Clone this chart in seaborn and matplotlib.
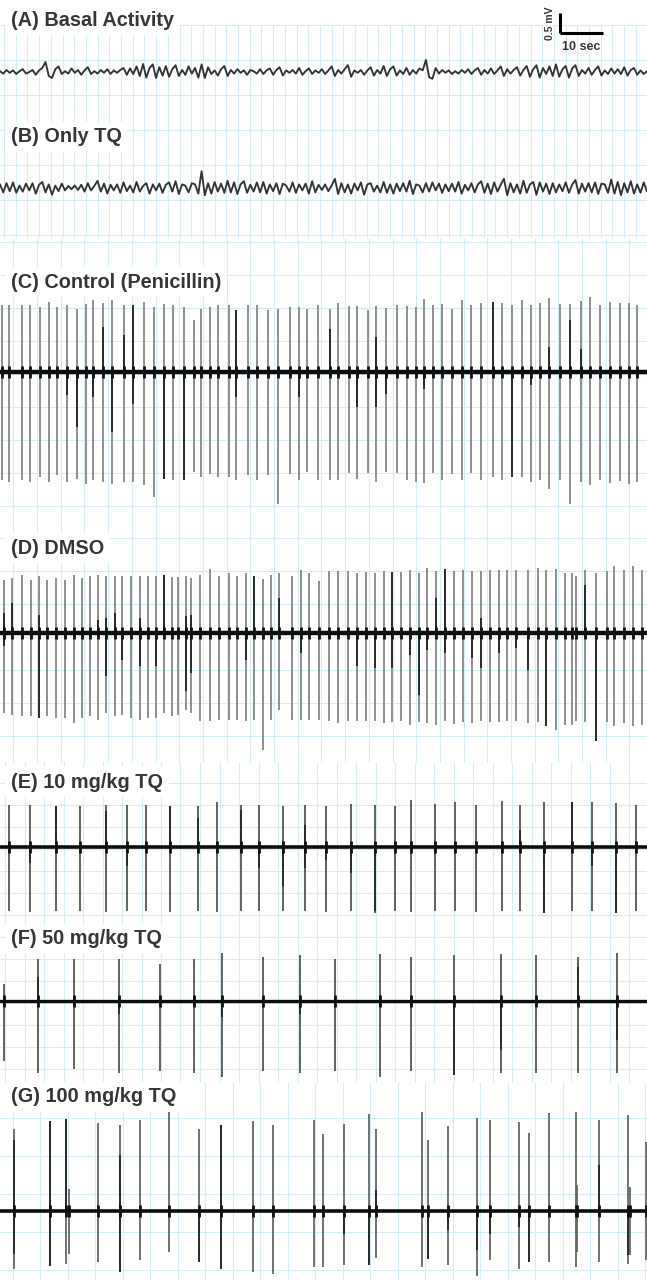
import numpy as np
import matplotlib
matplotlib.use('Agg')
import matplotlib.pyplot as plt
from matplotlib import font_manager
import seaborn as sns

# ---------------------------------------------------------------------------
# data
# ---------------------------------------------------------------------------

panel_labels = ['(A) Basal Activity', '(B) Only TQ', '(C) Control (Penicillin)', '(D) DMSO',
                '(E) 10 mg/kg TQ', '(F) 50 mg/kg TQ', '(G) 100 mg/kg TQ']

# (A) and (B): raw trace in microvolts, samples spread evenly over the 150 s window
basal_uv = [20, -40, 50, -20, 40, -50, 20, 70, -40, 0,
            50, -70, 40, 100, 250, -100, -150, 70, 140, -50,
            20, -40, 90, -20, 50, -70, 40, 120, -50, 20,
            -40, 50, -20, 70, -50, 40, -20, 50, 100, -70,
            90, -50, 140, -100, 200, -140, 100, 190, -150, 120,
            -90, 150, -120, 70, 170, -100, 50, -70, 140, -40,
            100, -140, 190, -150, 120, -50, 40, -90, 70, 150,
            -100, 50, -40, 70, -20, 40, -70, 50, 20, -40,
            70, -50, 40, 90, -70, 50, 120, -90, 40, -20,
            50, -40, 100, -70, 20, 90, -50, 40, -20, 70,
            -50, 40, 140, -100, 50, -40, 70, 170, -120, 40,
            -20, 50, -70, 40, 120, -90, 50, -40, 150, -100,
            70, 140, -90, 40, -50, 100, -70, 50, -40, 90,
            40, 300, -130, -170, 100, -40, 50, -20, 40, -50,
            20, -40, 50, -20, 70, -50, 40, 100, -70, 50,
            -40, 90, -50, 40, 140, -100, 70, -40, 50, 120,
            -90, 50, 150, -120, 70, 170, -140, 100, -50, 140,
            -100, 190, -120, 70, 150, -140, 90, 170, -100, 50,
            -40, 100, -70, 50, 140, -90, 40, -50, 90, -40,
            70, -50, 120, -90, 50, 100, -70, 40, -50, 20]

only_tq_uv = [90, -110, 120, -80, 140, -120, 60, -90, 110, -60,
              120, -140, 80, 150, -110, 90, -170, 60, -80, 110,
              -60, 50, -30, 60, -50, 80, -90, 120, -60, 50,
              180, -90, 110, -140, 80, -60, 90, -120, 140, -80,
              60, -110, 150, -90, 50, 120, -140, 90, -60, 110,
              -120, 80, 140, -90, 170, -150, 90, 60, -110, 120,
              90, -140, 420, -180, 120, -140, 150, -90, 110, -120,
              180, -110, 140, -150, 90, 170, -120, 80, -90, 140,
              -110, 150, -140, 90, -80, 120, -150, 110, 60, -90,
              140, -120, 90, -60, 110, -140, 170, -110, 80, -50,
              90, -80, 60, 230, -150, 120, -110, 90, -140, 110,
              -60, 140, -170, 90, 120, -90, 60, -110, 150, -120,
              90, -140, 110, -80, 120, -90, 180, -150, 90, 60,
              -110, 120, -90, 140, -60, 110, -120, 90, -80, 110,
              -90, 150, -140, 80, -60, 120, -110, 90, 170, -120,
              110, -150, 140, -90, 80, 230, -180, 120, -110, 90,
              -140, 180, -120, 90, 150, -170, 140, -90, 110, -150,
              120, -110, 90, -80, 140, -120, 90, 200, -140, 110,
              -90, 120, -110, 140, -150, 110, 90, -120, 210, -140,
              150, -180, 120, -110, 170, -140, 90, -120, 140, -90]

# spiking traces: spike time (s), positive peak (mV), negative peak (mV)
control_t = [0.4, 2.1, 5.0, 7.0, 9.3, 11.4, 13.3, 15.5, 18.0, 20.0, 21.6, 24.0, 26.1, 28.8, 30.9,
             33.6, 35.7, 38.2, 40.2, 42.9, 45.0, 46.7, 48.8, 50.8, 53.2, 54.9, 57.7, 59.7, 62.4,
             64.7, 67.4, 69.6, 71.3, 74.0,
             76.7, 78.6, 81.1, 83.1, 85.6, 87.5, 89.7, 92.3, 94.7, 96.7, 98.5, 100.7, 102.9, 105.0,
             107.5, 109.5, 111.9, 114.7, 116.7, 119.1, 121.4, 123.4, 125.5, 127.7, 130.3, 132.5,
             135.0, 137.1, 139.5, 141.9, 144.1, 146.3, 148.2]
control_up = [1.67, 1.67, 1.67, 1.67, 1.62, 1.75, 1.62, 1.67, 1.58, 1.71, 1.81, 1.72, 1.81, 1.67, 1.67,
              1.75, 1.62, 1.71, 1.67, 1.62, 1.29, 1.58, 1.62, 1.67, 1.67, 1.54, 1.67, 1.67, 1.54,
              1.58, 1.62, 1.62, 1.58, 1.67,
              1.58, 1.72, 1.64, 1.64, 1.56, 1.64, 1.61, 1.67, 1.64, 1.62, 1.83, 1.67, 1.69, 1.58,
              1.81, 1.67, 1.72, 1.75, 1.72, 1.67, 1.81, 1.67, 1.72, 1.86, 1.71, 1.69, 1.77, 1.88,
              1.67, 1.75, 1.72, 1.72, 1.67]
control_down = [2.71, 2.75, 2.71, 2.75, 2.62, 2.75, 2.58, 2.75, 2.67, 2.79, 2.71, 2.75, 2.79, 2.75, 2.75,
                2.83, 3.12, 2.67, 2.71, 2.71, 2.5, 2.62, 2.54, 2.62, 2.62, 2.71, 2.58, 2.71, 2.58,
                3.29, 2.54, 2.71, 2.5, 2.71,
                2.71, 2.71, 2.52, 2.67, 2.52, 2.75, 2.5, 2.52, 2.71, 2.75, 2.77, 2.52, 2.71, 2.56,
                2.71, 2.52, 2.69, 2.62, 2.71, 2.62, 2.62, 2.75, 2.69, 2.92, 2.71, 3.29, 2.75, 2.83,
                2.71, 2.77, 2.73, 2.79, 2.75]

dmso_t = [0.9, 2.9, 5.2, 7.1, 9.1, 11.0, 13.1, 15.1, 17.2, 19.1, 21.0, 22.9, 24.6, 26.7, 28.4, 30.4,
          32.5, 34.5, 36.2, 38.1, 39.9, 41.4, 43.3, 44.4, 46.6, 48.8, 51.0, 53.2, 55.2, 57.2, 59.1,
          61.2, 63.0, 64.9, 68.0, 69.9, 71.9, 74.2,
          76.6, 78.7, 80.9, 83.0, 85.1, 87.2, 89.2, 91.1, 93.2, 95.3, 97.4, 99.4, 101.4, 103.6,
          105.6, 107.7, 109.8, 111.8, 113.9, 116.0, 118.0, 120.1, 122.8, 125.0, 127.0, 129.4, 131.3,
          133.0, 134.0, 136.1, 138.6, 141.2, 142.9, 145.0, 147.3, 149.2]
dmso_up = [1.33, 1.38, 1.46, 1.33, 1.42, 1.32, 1.38, 1.33, 1.46, 1.38, 1.42, 1.46, 1.42, 1.42, 1.42, 1.42,
           1.42, 1.42, 1.42, 1.46, 1.4, 1.4, 1.43, 1.38, 1.46, 1.6, 1.42, 1.5, 1.42, 1.5, 1.43,
           1.35, 1.46, 1.5, 1.42, 1.58, 1.5, 1.29,
           1.54, 1.54, 1.54, 1.5, 1.52, 1.5, 1.54, 1.52, 1.52, 1.58, 1.5, 1.62, 1.54, 1.6,
           1.54, 1.58, 1.54, 1.54, 1.58, 1.58, 1.58, 1.58, 1.58, 1.62, 1.58, 1.6, 1.5,
           1.5, 1.42, 1.58, 1.5, 1.54, 1.67, 1.58, 1.68, 1.58]
dmso_down = [2.0, 2.04, 2.08, 2.08, 2.12, 2.08, 2.12, 2.12, 2.25, 2.12, 2.08, 2.17, 2.0, 2.08, 2.04, 2.12,
             2.17, 2.12, 2.12, 2.0, 2.08, 2.04, 1.92, 2.0, 2.21, 2.21, 2.17, 2.17, 2.17, 2.21, 2.17,
             2.92, 2.17, 1.92, 2.17, 2.17, 2.17, 2.17,
             2.21, 2.25, 2.21, 2.21, 2.21, 2.21, 2.25, 2.23, 2.21, 2.29, 2.23, 2.25, 2.29, 2.21,
             2.27, 2.23, 2.25, 2.21, 2.23, 2.23, 2.21, 2.21, 2.25, 2.23, 2.33, 2.42, 2.29,
             2.29, 2.21, 2.23, 2.71, 2.23, 2.33, 2.25, 2.33, 2.29]

tq10_t = [2.1, 6.9, 13.1, 18.5, 24.7, 29.5, 34.0, 39.5, 46.0, 50.5, 56.0, 60.3, 65.9, 70.9, 75.7,
          81.6, 87.2, 91.8, 95.6, 101.1, 105.8, 110.8, 116.7, 120.9, 126.6, 133.0, 137.6, 143.3, 148.0]
tq10_up = [1.06, 1.06, 1.02, 1.03, 1.06, 1.06, 1.06, 1.03, 1.02, 1.12, 1.06, 1.06, 1.03, 1.06, 1.03,
           1.08, 1.06, 1.03, 1.18, 1.08, 1.12, 1.06, 1.14, 1.06, 1.12, 1.12, 1.12, 1.1, 1.06]
tq10_down = [1.6, 1.62, 1.6, 1.6, 1.62, 1.6, 1.6, 1.62, 1.6, 1.62, 1.6, 1.6, 1.6, 1.6, 1.62,
             1.6, 1.65, 1.6, 1.62, 1.6, 1.6, 1.62, 1.6, 1.6, 1.65, 1.6, 1.6, 1.65, 1.6]

tq50_t = [0.9, 8.8, 17.2, 27.6, 37.2, 45.0, 51.7, 61.2, 69.8, 77.9, 88.3, 95.5, 105.5, 116.4, 124.7,
          134.4, 143.4]
tq50_up = [0.43, 1.06, 1.06, 1.06, 0.93, 1.06, 1.2, 1.1, 1.14, 1.06, 1.18, 1.1, 1.14, 1.17, 1.14,
           1.1, 1.2]
tq50_down = [1.5, 1.8, 1.7, 1.8, 1.75, 1.8, 1.9, 1.75, 1.8, 1.75, 1.9, 1.75, 1.85, 1.8, 1.8,
             1.8, 1.8]

tq100_t = [3.3, 11.6, 15.3, 22.9, 27.9, 32.6, 39.3, 46.3, 51.4, 58.8, 63.6, 73.0, 75.0, 79.9, 85.8,
           87.5, 98.2, 99.5, 104.2, 110.9, 114.0, 120.7, 123.0, 127.7, 133.9, 139.3, 146.0, 150.2,
           16.0, 134.3, 146.4]
tq100_up = [2.06, 2.24, 2.31, 2.2, 2.14, 2.27, 2.48, 2.06, 2.14, 2.25, 2.14, 2.27, 1.93, 2.18, 2.43,
            2.06, 2.48, 1.78, 2.12, 2.33, 2.27, 2.22, 1.95, 2.45, 2.48, 2.27, 2.39, 1.73,
            0.56, 0.64, 0.6]
tq100_down = [1.44, 1.38, 1.33, 1.28, 1.53, 1.23, 1.03, 1.28, 1.44, 1.53, 1.57, 1.4, 1.4, 1.36, 1.36,
              1.17, 1.4, 1.21, 1.36, 1.63, 1.23, 1.44, 1.28, 1.28, 1.4, 1.28, 1.32, 1.23,
              1.07, 1.03, 1.1]

# darker superimposed discharges: time (s), positive part (mV), negative part (mV)
control_dark_t = [15.5, 18.0, 21.6, 24.0, 26.1, 28.8, 30.9, 38.2, 42.9, 54.9, 69.6, 76.7, 83.1, 87.5,
                  89.7, 98.5, 114.7, 119.1, 123.4, 127.7, 132.5, 135.0]
control_dark_up = [0, 0, 0, 1.12, 0, 0.92, 1.67, 0, 0, 1.54, 0, 1.08, 0, 0.88,
                   0, 0, 1.75, 0, 0, 0.62, 1.29, 0.58]
control_dark_down = [0.58, 1.37, 0.62, 0, 1.5, 0, 0.79, 2.67, 2.71, 0.62, 0.62, 0, 0.88, 0.88,
                     0.54, 0.42, 0, 2.62, 0.33, 0, 0, 0]

dmso_dark_t = [0.9, 2.9, 9.1, 22.9, 24.6, 26.7, 28.4, 32.5, 36.2, 38.1, 43.3, 44.4, 57.2, 59.1, 64.9,
               69.9, 83.0, 87.2, 91.1, 95.3, 97.4, 99.4, 101.4, 103.6, 109.8, 111.8, 116.0, 120.1,
               122.8, 127.0, 136.1, 138.6]
dmso_dark_up = [0.5, 0.75, 0.46, 0.33, 0.37, 0.5, 0, 0.37, 0, 1.46, 0.42, 0.46, 0, 1.43, 0.87,
                0, 0, 0, 1.52, 0, 0, 0, 0.87, 1.6, 0, 0.37, 0, 0,
                0, 0, 1.21, 0]
dmso_dark_down = [0.33, 0, 2.12, 0, 1.08, 0, 0.67, 0.83, 0.83, 0, 1.46, 1.0, 0.67, 0, 0,
                  0.5, 0.83, 0.87, 0.87, 0.54, 1.54, 0.42, 0, 0.5, 0.62, 0.87, 0.5, 0.37,
                  0.92, 2.33, 0, 2.71]

tq10_dark_t = [6.9, 13.1, 24.7, 29.5, 39.5, 46.0, 56.0, 60.3, 65.9, 70.9, 75.7, 81.6, 87.2, 120.9,
               126.6, 133.0, 137.6, 143.3]
tq10_dark_up = [0, 1.02, 0.9, 0, 1.03, 0.73, 0.93, 0, 0, 0.56, 0, 0, 0, 0.43,
                0, 1.12, 0, 0]
tq10_dark_down = [0.4, 0, 0, 0.48, 0, 0, 0, 0.53, 0.98, 0.53, 0.32, 0.65, 1.6, 0,
                  1.65, 0, 0.48, 1.65]

tq50_dark_t = [8.8, 27.6, 51.7, 69.8, 105.5, 116.4, 134.4, 143.4]
tq50_dark_up = [0.6, 0, 0, 0, 0, 0, 0.85, 0]
tq50_dark_down = [0, 0.32, 0.4, 0.32, 1.85, 1.23, 0, 0.98]

tq100_dark_t = [3.3, 11.6, 15.3, 27.9, 46.3, 51.4, 79.9, 85.8, 87.5, 99.5, 104.2, 110.9, 114.0,
                120.7, 123.0, 139.3, 146.0]
tq100_dark_up = [1.77, 2.24, 2.31, 1.39, 0, 2.14, 0, 0, 0.52, 0, 0, 0, 0,
                 0, 0, 1.14, 0]
tq100_dark_down = [1.07, 1.38, 0, 1.53, 1.28, 1.44, 0.57, 1.36, 0, 1.21, 0.48, 0.98, 0.57,
                   0.4, 1.28, 0, 1.1]

# ---------------------------------------------------------------------------
# layout (pixels of the 647 x 1280 page) and scale
# ---------------------------------------------------------------------------
FIG_W, FIG_H = 647, 1280
PX_PER_SEC = 4.3      # 10 sec bar = 43 px
PX_PER_MV = 40.0      # 0.5 mV bar = 20 px
baseline_px = [72, 188, 372, 633, 847, 1001, 1211]
title_px = [20, 137, 282, 548, 782, 939, 1097]
TITLE_X_PX = 11

GRID_COLOR = '#d4edf5'
DARK_COLOR = '#2b2b2b'
TEXT_COLOR = '#363636'


def sec(px):
    return px / PX_PER_SEC


def mv(px):
    return -px / PX_PER_MV


def draw_grid(ax):
    # (top px, bottom px, vertical step, vertical offset, horizontal step, horizontal offset)
    bands = [(25, 238, 11.7, 4, 35, 25),
             (238, 762, 23.7, 13.3, 32.9, 12),
             (762, 1082, 19.5, 5, 22, 13),
             (1082, 1280, 27.5, 12.5, 38, 1080)]
    for top, bottom, vstep, voff, hstep, hoff in bands:
        xs = np.arange(voff, FIG_W, vstep)
        ax.vlines(sec(xs), mv(bottom), mv(top), color=GRID_COLOR, lw=0.8, zorder=0)
        ys = np.arange(hoff, bottom, hstep)
        ys = ys[ys >= top]
        ax.hlines(mv(ys), 0, sec(FIG_W), color=GRID_COLOR, lw=0.8, zorder=0)


def draw_eeg(ax, values_uv, base):
    t = np.linspace(0, sec(FIG_W), len(values_uv))
    y = np.array(values_uv) / 1000.0 + base
    sns.lineplot(x=t, y=y, ax=ax, color='#333333', lw=1.35, zorder=3)


def draw_spikes(ax, t, up, down, dark_t, dark_up, dark_down, base, base_lw, color):
    t = np.array(t)
    ax.vlines(t, base - np.array(down), base + np.array(up), color=color, lw=1.3, zorder=2)
    dt = np.array(dark_t)
    ax.vlines(dt, base - np.array(dark_down), base + np.array(dark_up), color=DARK_COLOR, lw=1.4, zorder=3)
    ax.axhline(base, color='#0d0d0d', lw=base_lw, zorder=4)
    ax.vlines(t, base - 0.16, base + 0.16, color='#111111', lw=2.0, zorder=5)


def draw_scale_bar(ax, family):
    x0 = sec(560)
    y0 = mv(33)
    ax.plot([x0, x0 + 10], [y0, y0], color='black', lw=2.2, solid_capstyle='butt', zorder=6)
    ax.plot([x0, x0], [y0, y0 + 0.5], color='black', lw=2.2, solid_capstyle='butt', zorder=6)
    ax.text(x0 + 5, mv(47), '10 sec', ha='center', va='center', fontsize=9,
            fontweight='bold', color=TEXT_COLOR, family=family)
    ax.text(sec(550), y0 + 0.25, '0.5 mV', ha='center', va='center', rotation=90,
            fontsize=7.5, fontweight='bold', color=TEXT_COLOR, family=family)


def main():
    sns.set_theme(style='white')
    names = {f.name for f in font_manager.fontManager.ttflist}
    family = 'Liberation Sans Narrow' if 'Liberation Sans Narrow' in names else 'Liberation Sans'
    plt.rcParams['font.family'] = [family, 'DejaVu Sans']

    fig = plt.figure(figsize=(FIG_W / 100, FIG_H / 100), dpi=100)
    ax = fig.add_axes([0, 0, 1, 1])
    ax.set_xlim(0, sec(FIG_W))
    ax.set_ylim(mv(FIG_H), 0)
    ax.axis('off')

    draw_grid(ax)

    bases = [mv(p) for p in baseline_px]
    draw_eeg(ax, basal_uv, bases[0])
    draw_eeg(ax, only_tq_uv, bases[1])
    draw_spikes(ax, control_t, control_up, control_down,
                control_dark_t, control_dark_up, control_dark_down, bases[2], 3.2, '#878787')
    draw_spikes(ax, dmso_t, dmso_up, dmso_down,
                dmso_dark_t, dmso_dark_up, dmso_dark_down, bases[3], 3.2, '#878787')
    draw_spikes(ax, tq10_t, tq10_up, tq10_down,
                tq10_dark_t, tq10_dark_up, tq10_dark_down, bases[4], 2.6, '#555555')
    draw_spikes(ax, tq50_t, tq50_up, tq50_down,
                tq50_dark_t, tq50_dark_up, tq50_dark_down, bases[5], 2.4, '#555555')
    draw_spikes(ax, tq100_t, tq100_up, tq100_down,
                tq100_dark_t, tq100_dark_up, tq100_dark_down, bases[6], 2.6, '#666666')

    fsize = 13.5 if family == 'Liberation Sans Narrow' else 14.3
    for label, ty in zip(panel_labels, title_px):
        ax.text(sec(TITLE_X_PX), mv(ty), label, ha='left', va='center', fontsize=fsize,
                fontweight='bold', color=TEXT_COLOR, zorder=7,
                bbox=dict(facecolor='white', edgecolor='none', pad=4))

    draw_scale_bar(ax, family)

    fig.savefig('out.png', dpi=100)
    plt.close(fig)


if __name__ == '__main__':
    main()
